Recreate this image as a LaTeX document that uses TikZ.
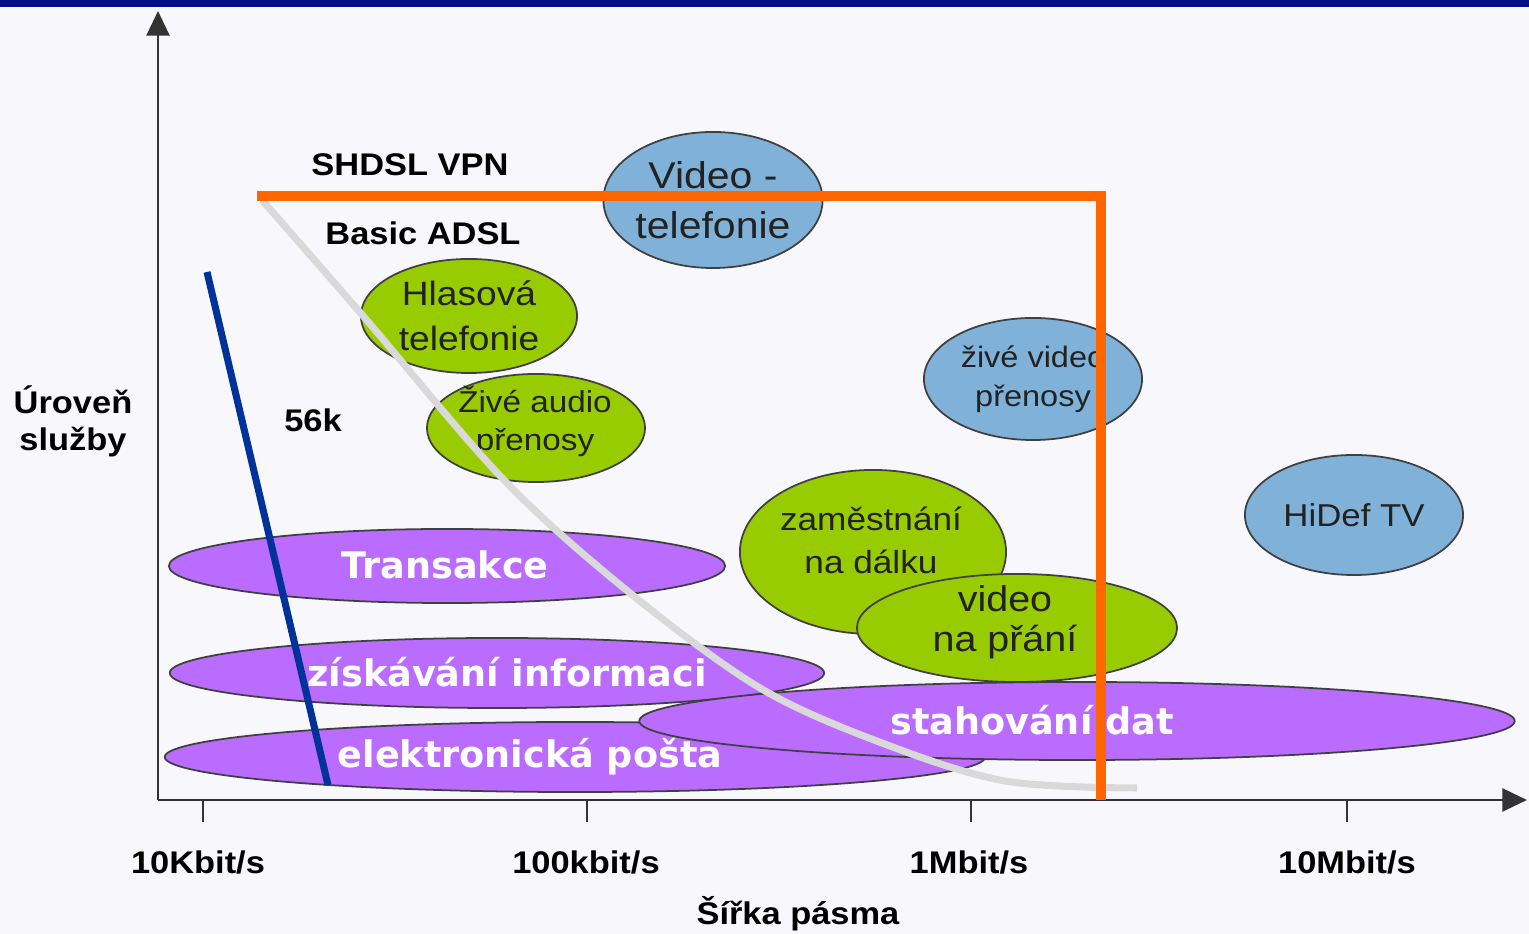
\documentclass[tikz,border=0pt]{standalone}
\usepackage{fontspec}
\usetikzlibrary{shapes.geometric,arrows.meta}
\newfontfamily\lblfont[FakeStretch=1.1]{Liberation Sans}
\newfontfamily\axisfont[FakeStretch=1.1]{Liberation Sans Bold}
\newfontfamily\bandfont{DejaVu Sans}
\definecolor{bandblue}{HTML}{000E8C}
\definecolor{paper}{HTML}{F8F8FC}
\definecolor{svcpurple}{HTML}{BA6CFF}
\definecolor{svcgreen}{HTML}{99CC00}
\definecolor{svcblue}{HTML}{80B2D9}
\definecolor{vpnorange}{HTML}{FF6600}
\definecolor{adslgray}{HTML}{D9D9D9}
\definecolor{modemblue}{HTML}{003399}
\definecolor{inktext}{HTML}{222222}
\tikzset{
        svc/.style={ellipse, draw=black!75, line width=0.5pt, inner sep=0pt, align=center, text=inktext},
        % Green services
        svc_green/.style={svc, fill=svcgreen},
        % Blue services
        svc_blue/.style={svc, fill=svcblue},
        % Purple bands
        svc_band/.style={svc, fill=svcpurple},
        band_text/.style={text=white, inner sep=0pt, font=\bandfont\bfseries\fontsize{10.4}{12}\selectfont},
        % Service texts placed apart from their ellipse
        svc_text/.style={inner sep=0pt, align=center, text=inktext},
        % Axis texts
        axis_text/.style={inner sep=0pt, align=center, text=black, font=\axisfont\fontsize{8.9}{10.5}\selectfont},
        axis_line/.style={line width=0.8pt, black!80},
        % Access lines
        vpn_line/.style={line width=2.8pt, vpnorange, line join=miter},
        adsl_line/.style={line width=2pt, adslgray},
        modem_line/.style={line width=2pt, modemblue}
}

\begin{document}
\begin{tikzpicture}[x=0.01cm, y=-0.01cm]
            \fill[paper] (0,0) rectangle (1529,934);
            \fill[bandblue] (0,0) rectangle (1529,7);
            \useasboundingbox (0,0) rectangle (1529,934);

            % axes
            \coordinate (origin) at (158,800);
            \coordinate (ytip) at (158,11);
            \coordinate (xtip) at (1527,800);
            \draw[axis_line, -{Triangle[length=7pt,width=6.5pt]}] (origin) -- (ytip);
            \draw[axis_line, -{Triangle[length=7pt,width=6.5pt]}] (origin) -- (xtip);
            \foreach \x in {203,587,971,1347}
                \draw[axis_line] (\x,800) -- (\x,822);

            \node[axis_text] (t10k) at (198,862) {10Kbit/s};
            \node[axis_text] (t100k) at (586,862) {100kbit/s};
            \node[axis_text] (t1M) at (969,862) {1Mbit/s};
            \node[axis_text] (t10M) at (1347,862) {10Mbit/s};
            \node[axis_text] (xlabel) at (798,914) {Šířka pásma};
            \node[axis_text] (ylabel) at (73,421) {Úroveň\\služby};

            % purple bands
            \node[svc_band, minimum width=5.56cm, minimum height=0.74cm] (transakce) at (447,566) {};
            \node[svc_band, minimum width=6.54cm, minimum height=0.70cm] (info) at (497,673) {};
            \node[svc_band, minimum width=8.2cm, minimum height=0.70cm] (posta) at (575,757) {};
            \node[svc_band, minimum width=8.75cm, minimum height=0.78cm] (stahovani) at (1077,721) {};
            \node[band_text] (transakce_txt) at (445,565) {Transakce};
            \node[band_text] (info_txt) at (507,672) {získávání informaci};
            \node[band_text] (posta_txt) at (530,757) {elektronická pošta};
            \node[band_text] (stahovani_txt) at (1032,720) {stahování dat};

            % services
            \node[svc_blue, minimum width=2.16cm, minimum height=1.36cm,
                font=\lblfont\fontsize{10.6}{14.2}\selectfont] (videotel) at (713,200) {Video -\\telefonie};
            \node[svc_green, minimum width=2.16cm, minimum height=1.14cm,
                font=\lblfont\fontsize{9.6}{12.8}\selectfont] (hlas) at (469,316) {Hlasová\\telefonie};
            \node[svc_green, minimum width=2.18cm, minimum height=1.08cm] (audio) at (536,428) {};
            \node[svc_text, font=\lblfont\fontsize{8.6}{10.8}\selectfont] (audio_txt) at (535,421) {Živé audio\\přenosy};
            \node[svc_blue, minimum width=2.18cm, minimum height=1.22cm,
                font=\lblfont\fontsize{8.4}{11}\selectfont] (livevideo) at (1033,379) {živé video\\přenosy};
            \node[svc_blue, minimum width=2.18cm, minimum height=1.2cm,
                font=\lblfont\fontsize{9}{11}\selectfont] (hidef) at (1354,515) {HiDef TV};
            \node[svc_green, minimum width=2.66cm, minimum height=1.64cm] (remote) at (873,552) {};
            \node[svc_text, font=\lblfont\fontsize{9.1}{12.2}\selectfont] (remote_txt) at (871,540) {zaměstnání\\na dálku};
            \node[svc_green, minimum width=3.2cm, minimum height=1.08cm] (vod) at (1017,628) {};
            \node[svc_text, font=\lblfont\fontsize{10.2}{11.4}\selectfont] (vod_txt) at (1005,622) {video\\na přání};

            % access lines
            \coordinate (modem_top) at (207,272);
            \coordinate (modem_bottom) at (328,785);
            \draw[modem_line] (modem_top) -- (modem_bottom);
            \draw[adsl_line] plot[smooth, tension=0.55] coordinates {(262,200) (364,317) (504,480) (630,593) (760,688) (882,743) (1005,781) (1137,788)};
            \coordinate (vpn_start) at (257,196);
            \coordinate (vpn_corner) at (1101,196);
            \coordinate (vpn_end) at (1101,800);
            \draw[vpn_line] (vpn_start) -- (vpn_corner) -- (vpn_end);

            \node[axis_text] (vpn_lbl) at (410,165) {SHDSL VPN};
            \node[axis_text] (adsl_lbl) at (423,233) {Basic ADSL};
            \node[axis_text] (modem_lbl) at (313,420) {56k};
\end{tikzpicture}
\end{document}
